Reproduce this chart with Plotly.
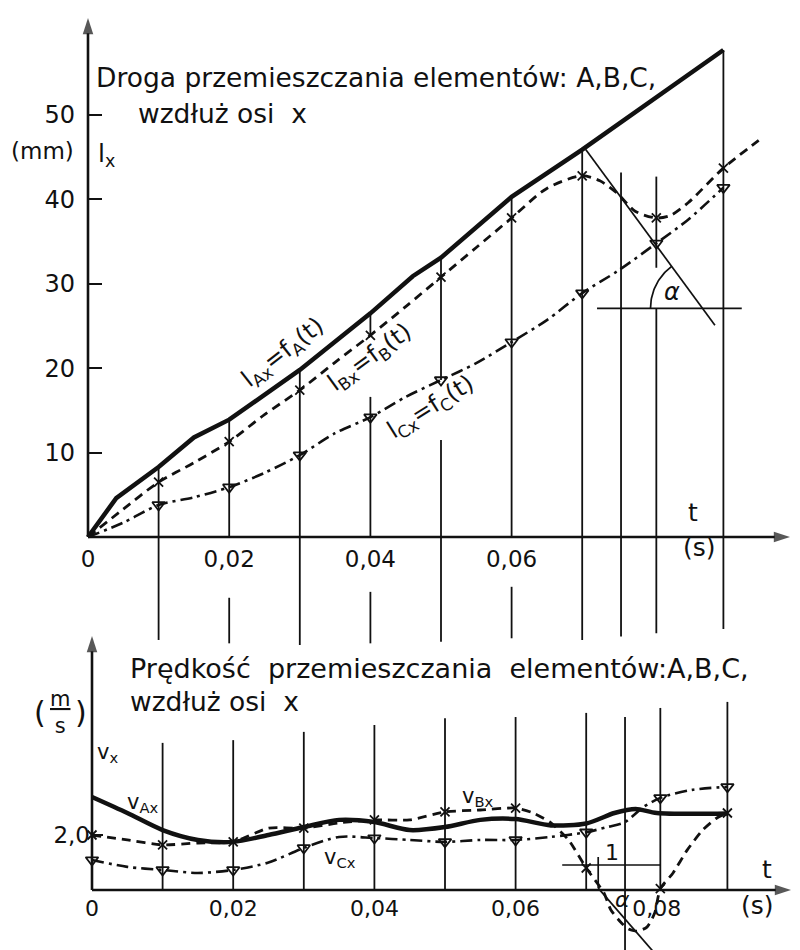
import numpy as np
import plotly.graph_objects as go

# ---------------- data ----------------
# top chart: displacement l_x (mm) vs time t (s)
t_lA = [0, 0.004, 0.01, 0.015, 0.02, 0.026, 0.03, 0.04, 0.046, 0.05, 0.06, 0.07, 0.08, 0.09]
lA = [0, 4.6, 8.3, 11.8, 13.9, 17.4, 19.8, 26.5, 30.9, 33.1, 40.3, 45.9, 51.8, 57.7]

t_lB = [0, 0.005, 0.01, 0.015, 0.02, 0.025, 0.03, 0.035, 0.04, 0.045, 0.05, 0.055,
        0.06, 0.065, 0.07, 0.0725, 0.075, 0.0775, 0.0805, 0.0825, 0.085, 0.09, 0.095]
lB = [0, 3.3, 6.5, 8.8, 11.3, 14.5, 17.4, 20.7, 23.9, 27.3, 30.8, 34.3,
      37.8, 41.3, 42.8, 42.2, 40.7, 38.6, 37.8, 38.1, 39.6, 43.7, 47.0]

t_lC = [0, 0.005, 0.01, 0.015, 0.02, 0.025, 0.03, 0.035, 0.04, 0.045, 0.05, 0.055,
        0.06, 0.065, 0.07, 0.075, 0.0805, 0.085, 0.09]
lC = [0, 1.7, 3.8, 4.7, 5.9, 7.6, 9.7, 12.3, 14.2, 16.6, 18.6, 20.6,
      23.1, 25.7, 28.9, 31.5, 34.8, 37.6, 41.4]

# bottom chart: velocity v_x (m/s) vs time t (s)
t_vA = [0, 0.005, 0.01, 0.015, 0.02, 0.025, 0.03, 0.035, 0.04, 0.045, 0.05, 0.055,
        0.06, 0.065, 0.07, 0.074, 0.077, 0.08, 0.09]
vA = [3.38, 2.80, 2.18, 1.82, 1.75, 2.0, 2.29, 2.55, 2.47, 2.18, 2.29, 2.55,
      2.58, 2.35, 2.42, 2.80, 2.95, 2.80, 2.78]

t_vB = [0, 0.005, 0.01, 0.015, 0.02, 0.025, 0.03, 0.035, 0.04, 0.045, 0.05, 0.055,
        0.06, 0.0625, 0.065, 0.0675, 0.07, 0.0725, 0.0735, 0.075, 0.076, 0.0772,
        0.0786, 0.0797, 0.0805, 0.0823, 0.0843, 0.0865, 0.0885, 0.09]
vB = [2.0, 1.82, 1.64, 1.71, 1.75, 2.25, 2.25, 2.44, 2.55, 2.55, 2.84, 2.91,
      2.98, 2.80, 2.44, 1.82, 0.80, -0.10, -0.73, -1.20, -1.42, -1.50,
      -1.35, -0.84, 0.05, 0.62, 1.45, 2.18, 2.62, 2.80]

t_vC = [0, 0.005, 0.01, 0.015, 0.02, 0.025, 0.03, 0.035, 0.04, 0.045, 0.05, 0.055,
        0.06, 0.065, 0.07, 0.073, 0.0755, 0.078, 0.0805, 0.085, 0.09]
vC = [1.09, 0.84, 0.73, 0.62, 0.73, 1.0, 1.53, 1.93, 1.89, 1.82, 1.75, 1.82,
      1.82, 1.93, 2.10, 2.29, 2.47, 3.0, 3.35, 3.64, 3.75]

# time values where the construction markers sit
marker_t = [0, 0.01, 0.02, 0.03, 0.04, 0.05, 0.06, 0.07, 0.0805, 0.09]

# vertical construction lines
line_t = [0.01, 0.02, 0.03, 0.04, 0.05, 0.06, 0.07, 0.0755, 0.0805, 0.09]
top_line_upper = [8.3, 13.9, 19.8, 26.5, 33.1, 40.3, 45.9, 43.2, 42.7, 57.7]
top_line_lower = [-12.2, 0, -12.8, 0, -12.4, 0, -12.2, -11.8, -11.4, -10.9]
top_gap_hi = [None, None, None, 23.9, 18.6, None, None, None, 31.9, None]
top_gap_lo = [None, None, None, 16.6, 11.5, None, None, None, 27.1, None]
bridge_t = [0.02, 0.04, 0.06]
bridge_upper = [-7.2, -6.5, -5.9]
bridge_lower = [-12.6, -12.6, -12.0]
bot_line_upper = [5.35, 5.45, 5.75, 6.0, 6.25, 6.29, 6.44, 6.29, 6.62, 6.84]
bot_line_lower = [0, 0, 0, 0, 0, 0, 0, -2.2, 0, 0]

# graphical construction of slope (angle alpha)
top_tangent_t = [0.0705, 0.0888]
top_tangent_l = [45.9, 25.1]
top_hline_t = [0.0721, 0.0926]
top_hline_l = [27.1, 27.1]
bot_hline_t = [0.0666, 0.0805]
bot_hline_v = [0.91, 0.91]
bot_vtick_t = [0.0717, 0.0717]
bot_vtick_v = [0.07, 1.2]
bot_tangent_t = [0.0717, 0.0797]
bot_tangent_v = [0.07, -2.3]

# tick labels
top_xtick_vals = [0, 0.02, 0.04, 0.06]
top_xtick_text = ["0", "0,02", "0,04", "0,06"]
top_ytick_vals = [10, 20, 30, 40, 50]
top_ytick_text = ["10", "20", "30", "40", "50"]
bot_xtick_vals = [0, 0.02, 0.04, 0.06, 0.08]
bot_xtick_text = ["0", "0,02", "0,04", "0,06", "0,08"]
bot_ytick_vals = [2.0]
bot_ytick_text = ["2,0"]

# ---------------- layout geometry (page pixels) ----------------
PAGE_W, PAGE_H = 800, 950
BODY_OFF = 8                      # default page margin in front of the figure
W, H = PAGE_W - BODY_OFF, PAGE_H - BODY_OFF
TOP_LOW_PX = 650                  # lower edge of the top panel
BOT_TOP_PX = 620                  # upper edge of the bottom panel (panels overlap slightly)
PX_PER_T = 7060.0
TOP_X0_PX, BOT_X0_PX = 88, 92     # page x of t = 0
TOP_Y0_PX, TOP_PX_PER_UNIT = 537, 8.44
BOT_Y0_PX, BOT_PX_PER_UNIT = 890, 27.5

top_xr = [(BODY_OFF - TOP_X0_PX) / PX_PER_T, (PAGE_W - TOP_X0_PX) / PX_PER_T]
bot_xr = [(BODY_OFF - BOT_X0_PX) / PX_PER_T, (PAGE_W - BOT_X0_PX) / PX_PER_T]
top_yr = [(TOP_Y0_PX - TOP_LOW_PX) / TOP_PX_PER_UNIT, (TOP_Y0_PX - BODY_OFF) / TOP_PX_PER_UNIT]
bot_yr = [(BOT_Y0_PX - PAGE_H) / BOT_PX_PER_UNIT, (BOT_Y0_PX - BOT_TOP_PX) / BOT_PX_PER_UNIT]
top_dom = [(PAGE_H - TOP_LOW_PX) / H, 1.0]
bot_dom = [0.0, (PAGE_H - BOT_TOP_PX) / H]


def frac(v, r):
    return (v - r[0]) / (r[1] - r[0])


FONT = "DejaVu Sans"
BLACK = "#111111"

fig = go.Figure()


def seg_trace(xs, ys, width, xa, ya, dash="solid"):
    fig.add_trace(go.Scatter(x=xs, y=ys, mode="lines", xaxis=xa, yaxis=ya,
                             line=dict(color=BLACK, width=width, dash=dash),
                             hoverinfo="skip", showlegend=False))


# ---- vertical construction lines, top ----
xs, ys = [], []
for t, up, lo, ghi, glo in zip(line_t, top_line_upper, top_line_lower, top_gap_hi, top_gap_lo):
    if ghi is None:
        xs += [t, t, None]; ys += [up, lo, None]
    else:
        xs += [t, t, None, t, t, None]; ys += [up, ghi, None, glo, lo, None]
for t, up, lo in zip(bridge_t, bridge_upper, bridge_lower):
    xs += [t, t, None]; ys += [up, lo, None]
seg_trace(xs, ys, 1.8, "x", "y")

# ---- vertical construction lines, bottom ----
xs, ys = [], []
for t, up, lo in zip(line_t, bot_line_upper, bot_line_lower):
    xs += [t, t, None]; ys += [up, lo, None]
seg_trace(xs, ys, 1.8, "x2", "y2")

# ---- slope construction lines ----
seg_trace(top_tangent_t, top_tangent_l, 1.7, "x", "y")
seg_trace(top_hline_t, top_hline_l, 1.7, "x", "y")
seg_trace(bot_hline_t, bot_hline_v, 1.7, "x2", "y2")
seg_trace(bot_vtick_t, bot_vtick_v, 1.7, "x2", "y2")
seg_trace(bot_tangent_t, bot_tangent_v, 1.7, "x2", "y2")


# arc marking alpha in the top chart (computed in pixel space)
def to_px(t, v):
    return TOP_X0_PX + t * PX_PER_T, TOP_Y0_PX - v * TOP_PX_PER_UNIT


p0 = to_px(top_tangent_t[0], top_tangent_l[0])
p1 = to_px(top_tangent_t[1], top_tangent_l[1])
hy = to_px(0, top_hline_l[0])[1]
slope = (p1[1] - p0[1]) / (p1[0] - p0[0])
cx = p0[0] + (hy - p0[1]) / slope
ang_line = 180 - np.degrees(np.arctan(slope))
theta = np.radians(np.linspace(180, ang_line, 30))
R = 52
arc_px_x = cx + R * np.cos(theta)
arc_px_y = hy - R * np.sin(theta)
seg_trace(list((arc_px_x - TOP_X0_PX) / PX_PER_T), list((TOP_Y0_PX - arc_px_y) / TOP_PX_PER_UNIT),
          1.7, "x", "y")

# ---- curves ----
DASH_B = "9px,6px"
DASH_C = "12px,5px,3px,5px"
fig.add_trace(go.Scatter(x=t_lA, y=lA, mode="lines", xaxis="x", yaxis="y",
                         line=dict(color=BLACK, width=4.5), showlegend=False))
fig.add_trace(go.Scatter(x=t_lB, y=lB, mode="lines", xaxis="x", yaxis="y",
                         line=dict(color=BLACK, width=2.8, dash=DASH_B, shape="spline", smoothing=0.8),
                         showlegend=False))
fig.add_trace(go.Scatter(x=t_lC, y=lC, mode="lines", xaxis="x", yaxis="y",
                         line=dict(color=BLACK, width=2.6, dash=DASH_C, shape="spline", smoothing=0.8),
                         showlegend=False))
fig.add_trace(go.Scatter(x=t_vA, y=vA, mode="lines", xaxis="x2", yaxis="y2",
                         line=dict(color=BLACK, width=4.5, shape="spline", smoothing=0.8),
                         showlegend=False))
fig.add_trace(go.Scatter(x=t_vB, y=vB, mode="lines", xaxis="x2", yaxis="y2",
                         line=dict(color=BLACK, width=2.8, dash=DASH_B, shape="spline", smoothing=0.6),
                         showlegend=False))
fig.add_trace(go.Scatter(x=t_vC, y=vC, mode="lines", xaxis="x2", yaxis="y2",
                         line=dict(color=BLACK, width=2.6, dash=DASH_C, shape="spline", smoothing=0.8),
                         showlegend=False))


# ---- markers ----
def pick(ts, vs, skip_zero):
    mt, mv = [], []
    for t, v in zip(ts, vs):
        if any(np.isclose(t, m) for m in marker_t) and not (skip_zero and t == 0):
            mt.append(t); mv.append(v)
    return mt, mv


for ts, vs, sym, xa, ya, sz in [(t_lB, lB, "x-thin", "x", "y", 9),
                                (t_lC, lC, "triangle-down-open", "x", "y", 11),
                                (t_vB, vB, "x-thin", "x2", "y2", 9),
                                (t_vC, vC, "triangle-down-open", "x2", "y2", 11)]:
    mt, mv = pick(ts, vs, xa == "x")
    fig.add_trace(go.Scatter(x=mt, y=mv, mode="markers", xaxis=xa, yaxis=ya,
                             marker=dict(symbol=sym, size=sz, color=BLACK,
                                         line=dict(color=BLACK, width=1.8)),
                             showlegend=False, hoverinfo="skip"))


# ---- axes drawn as lines with arrow heads ----
def axis_arrow(x0, y0, x1, y1, xa, ya):
    fig.add_trace(go.Scatter(x=[x0, x1], y=[y0, y1], mode="lines+markers", xaxis=xa, yaxis=ya,
                             line=dict(color=BLACK, width=2.6),
                             marker=dict(symbol="arrow", angleref="previous", size=[0, 17],
                                         color=BLACK, line=dict(width=0)),
                             cliponaxis=False, hoverinfo="skip", showlegend=False))


axis_arrow(0, 0, 0, (TOP_Y0_PX - 18) / TOP_PX_PER_UNIT, "x", "y")
axis_arrow(0, 0, (790 - TOP_X0_PX) / PX_PER_T, 0, "x", "y")
axis_arrow(0, 0, 0, (BOT_Y0_PX - 636) / BOT_PX_PER_UNIT, "x2", "y2")
axis_arrow(0, 0, (791 - BOT_X0_PX) / PX_PER_T, 0, "x2", "y2")

# ---- texts ----
ann = []


def text(x, y, s, xr, yr, size=21, xanchor="center", angle=0):
    ann.append(dict(x=x, y=y, xref=xr, yref=yr, text=s, showarrow=False,
                    xanchor=xanchor, yanchor="middle", textangle=angle, borderpad=0,
                    font=dict(family=FONT, size=size, color=BLACK)))


text(0.0010, 54.4, "Droga przemieszczania elementów: A,B,C,", "x", "y", 26.5, "left")
text(0.0070, 50.2, "wzdłuż osi\u00a0 x", "x", "y", 26.5, "left")
text(-0.0065, 45.7, "(mm)", "x", "y", 23)
text(0.0026, 45.3, "l<sub>x</sub>", "x", "y", 25)
text(0.0276, 21.8, "l<sub>Ax</sub>=f<sub>A</sub>(t)", "x", "y", 24, angle=-38)
text(0.0399, 21.2, "l<sub>Bx</sub>=f<sub>B</sub>(t)", "x", "y", 24, angle=-36)
text(0.0487, 15.3, "l<sub>Cx</sub>=f<sub>C</sub>(t)", "x", "y", 24, angle=-32)
text(0.0827, 29.0, "<i>α</i>", "x", "y", 24)
text(0.0857, 2.9, "t", "x", "y", 25)
text(0.0866, -1.3, "(s)", "x", "y", 25)

text(0.0052, 8.07, "Prędkość\u00a0 przemieszczania\u00a0 elementów:A,B,C,", "x2", "y2", 27, "left")
text(0.0052, 6.84, "wzdłuż osi\u00a0 x", "x2", "y2", 26.5, "left")
text(-0.0045, 6.44, "<u>m</u><br>s", "x2", "y2", 21)
text(-0.0073, 6.44, "(", "x2", "y2", 30)
text(-0.0016, 6.44, ")", "x2", "y2", 30)
text(0.0022, 4.98, "v<sub>x</sub>", "x2", "y2", 21)
text(0.0072, 3.16, "v<sub>Ax</sub>", "x2", "y2", 21)
text(0.0547, 3.38, "v<sub>Bx</sub>", "x2", "y2", 21)
text(0.0351, 1.16, "v<sub>Cx</sub>", "x2", "y2", 21)
text(0.0737, 1.38, "1", "x2", "y2", 22)
text(0.0751, -0.36, "<i>α</i>", "x2", "y2", 22)
text(0.0956, 0.75, "t", "x2", "y2", 25)
text(0.0943, -0.55, "(s)", "x2", "y2", 25)

axis_common = dict(showgrid=False, zeroline=False, showline=False, color=BLACK)
fig.update_layout(
    width=W, height=H, autosize=False,
    margin=dict(l=0, r=0, t=0, b=0),
    paper_bgcolor="white", plot_bgcolor="rgba(0,0,0,0)",
    font=dict(family=FONT, color=BLACK),
    showlegend=False,
    annotations=ann,
    xaxis=dict(domain=[0, 1], range=top_xr, anchor="free",
               position=top_dom[0] + frac(0, top_yr) * (top_dom[1] - top_dom[0]),
               tickmode="array", tickvals=top_xtick_vals, ticktext=top_xtick_text,
               ticks="", ticklabelstandoff=6, tickfont=dict(size=23, family=FONT), **axis_common),
    yaxis=dict(domain=top_dom, range=top_yr, anchor="free", position=frac(0, top_xr),
               tickmode="array", tickvals=top_ytick_vals, ticktext=top_ytick_text,
               ticks="inside", ticklen=13, tickwidth=2.2, tickcolor=BLACK, ticklabelstandoff=13,
               tickfont=dict(size=24, family=FONT), **axis_common),
    xaxis2=dict(domain=[0, 1], range=bot_xr, anchor="free",
                position=bot_dom[0] + frac(0, bot_yr) * (bot_dom[1] - bot_dom[0]),
                tickmode="array", tickvals=bot_xtick_vals, ticktext=bot_xtick_text,
                ticks="", ticklabelstandoff=3, tickfont=dict(size=22, family=FONT), **axis_common),
    yaxis2=dict(domain=bot_dom, range=bot_yr, anchor="free", position=frac(0, bot_xr),
                tickmode="array", tickvals=bot_ytick_vals, ticktext=bot_ytick_text,
                ticks="inside", ticklen=10, tickwidth=2.2, tickcolor=BLACK, ticklabelstandoff=2,
                tickfont=dict(size=23, family=FONT), **axis_common),
)

fig.write_html("out.html")
